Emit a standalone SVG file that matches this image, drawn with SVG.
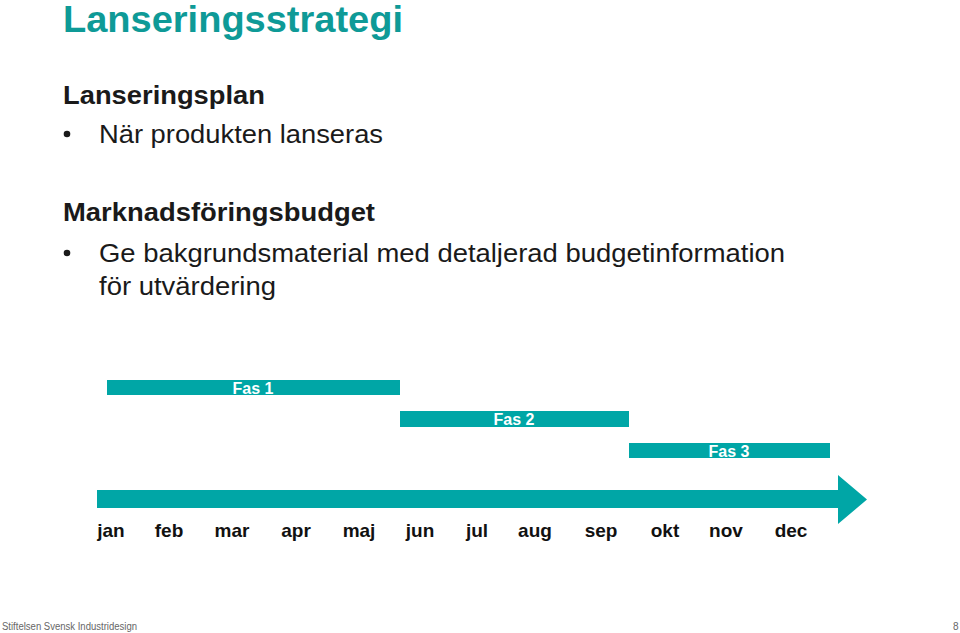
<svg xmlns="http://www.w3.org/2000/svg" width="960" height="633" viewBox="0 0 960 633">
<style>
text{font-family:"Liberation Sans",Arial,sans-serif}
.title{font-size:37px;font-weight:bold;fill:#0E9A97}
.head{font-size:26px;font-weight:bold;fill:#1a1a1a}
.body{font-size:26.5px;fill:#1a1a1a}
.bar{fill:#00A6A6}
.fas{font-size:16px;font-weight:bold;fill:#ffffff;text-anchor:middle}
.mon{font-size:19px;font-weight:bold;fill:#111;text-anchor:middle}
.foot{font-size:10px;fill:#666}
</style>
<rect width="960" height="633" fill="#ffffff"/>
<text class="title" x="63" y="32" textLength="340" lengthAdjust="spacingAndGlyphs">Lanseringsstrategi</text>
<text class="head" x="63" y="104" textLength="202" lengthAdjust="spacingAndGlyphs">Lanseringsplan</text>
<circle cx="67" cy="134" r="3.3" fill="#1a1a1a"/>
<text class="body" x="99" y="143" textLength="284" lengthAdjust="spacingAndGlyphs">När produkten lanseras</text>
<text class="head" x="63" y="221" textLength="312" lengthAdjust="spacingAndGlyphs">Marknadsföringsbudget</text>
<circle cx="67" cy="253" r="3.3" fill="#1a1a1a"/>
<text class="body" x="99" y="262" textLength="686" lengthAdjust="spacingAndGlyphs">Ge bakgrundsmaterial med detaljerad budgetinformation</text>
<text class="body" x="99" y="295" textLength="177" lengthAdjust="spacingAndGlyphs">för utvärdering</text>
<g id="fas1"><rect class="bar" x="107" y="380" width="293" height="15"/><text class="fas" x="253" y="394">Fas 1</text></g>
<g id="fas2"><rect class="bar" x="400" y="411" width="229" height="16"/><text class="fas" x="514" y="425">Fas 2</text></g>
<g id="fas3"><rect class="bar" x="629" y="443" width="201" height="15"/><text class="fas" x="729" y="457">Fas 3</text></g>
<g id="timeline"><polygon class="bar" points="97,490 838,490 838,475 867,499.5 838,524 838,508 97,508"/></g>
<g id="months">
<text class="mon" x="111" y="537">jan</text>
<text class="mon" x="169" y="537">feb</text>
<text class="mon" x="232" y="537">mar</text>
<text class="mon" x="296" y="537">apr</text>
<text class="mon" x="359" y="537">maj</text>
<text class="mon" x="420" y="537">jun</text>
<text class="mon" x="477" y="537">jul</text>
<text class="mon" x="535" y="537">aug</text>
<text class="mon" x="601" y="537">sep</text>
<text class="mon" x="665" y="537">okt</text>
<text class="mon" x="726" y="537">nov</text>
<text class="mon" x="791" y="537">dec</text>
</g>
<text class="foot" x="2" y="630" textLength="135" lengthAdjust="spacingAndGlyphs">Stiftelsen Svensk Industridesign</text>
<text class="foot" x="953" y="630">8</text>
</svg>
